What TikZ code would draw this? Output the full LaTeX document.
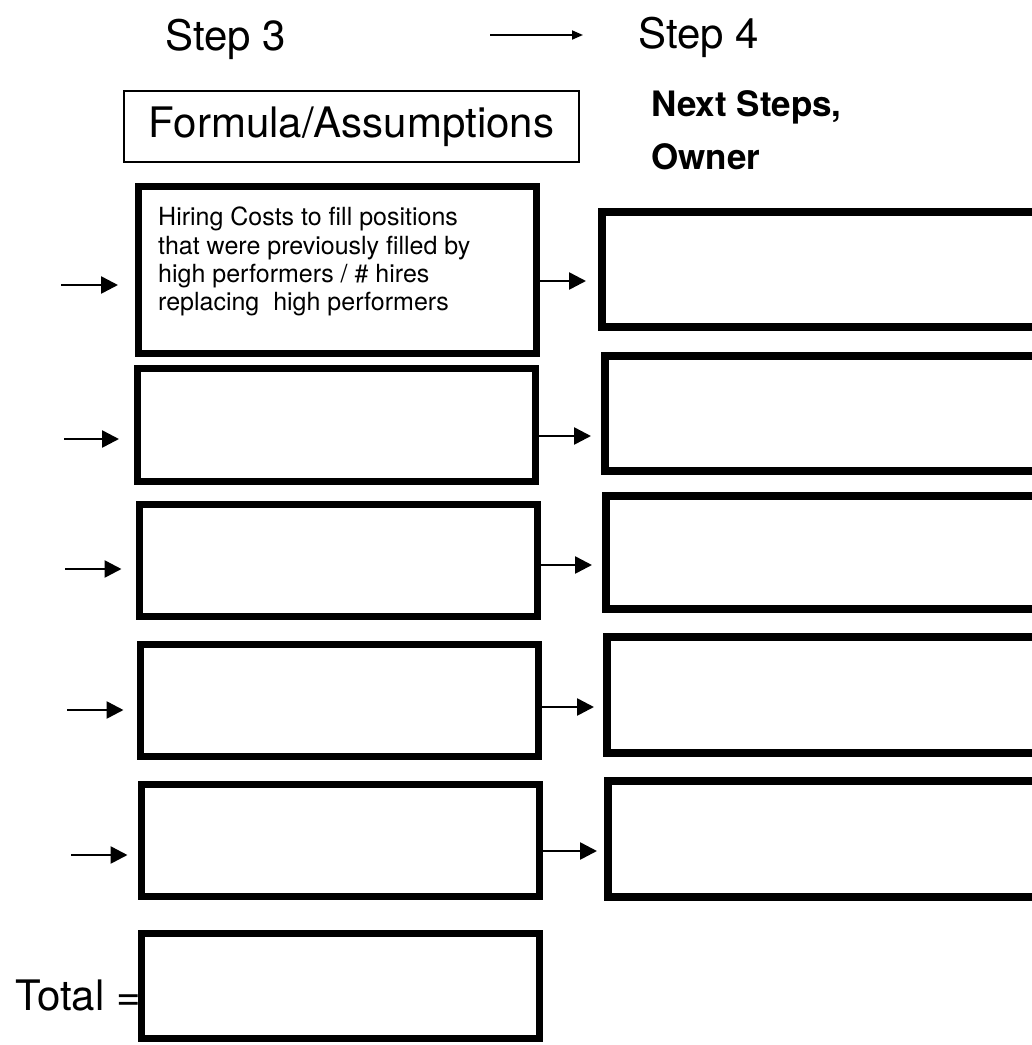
\documentclass[tikz,border=0pt]{standalone}
\usepackage{fontspec}
\setmainfont{TeX Gyre Heros}
\usetikzlibrary{arrows.meta}
\begin{document}
\begin{tikzpicture}[x=1pt, y=-1pt,
  leftbox/.style={draw=black, line width=7pt, minimum width=398pt, minimum height=#1, inner sep=0pt},
  ownerbox/.style={draw=black, line width=8pt, minimum width=452pt, minimum height=#1, inner sep=0pt},
  feed/.style={line width=2.6pt, -{Triangle[length=17pt,width=17pt]}},
  steparrow/.style={line width=1.8pt, -{Triangle[length=11pt,width=9pt]}},
  steptitle/.style={font=\fontsize{42}{48}\selectfont, inner sep=0pt},
]
% page frame
\useasboundingbox (0,0) rectangle (1032,1045);
\fill[white] (0,0) rectangle (1032,1045);
\clip (0,0) rectangle (1032,1045);

% header
\node[steptitle, anchor=base west] (s3) at (165,50) {Step 3};
\node[steptitle, anchor=base west] (s4) at (638,48) {Step 4};
\coordinate (h1) at (490,35);
\coordinate (h2) at (583,35);
\draw[steparrow] (h1) -- (h2);

\node[draw=black, line width=1.5pt, minimum width=455pt, minimum height=71pt, inner sep=0pt,
      font=\fontsize{42}{48}\selectfont] (formula) at (351.5,126.5) {Formula/Assumptions};
\node[anchor=north west, inner sep=0pt, align=left,
      font=\fontsize{35}{53}\selectfont\bfseries] (owner) at (651,90) {Next Steps,\\Owner};

% formula column
\node[leftbox=167pt] (L1) at (337.5,270) {};
\node[leftbox=113pt] (L2) at (336.5,425) {};
\node[leftbox=112pt] (L3) at (338,560.5) {};
\node[leftbox=112pt] (L4) at (339,700.5) {};
\node[leftbox=112pt] (L5) at (340,840.5) {};
\node[leftbox=105pt] (LT) at (340.5,986) {};

\node[anchor=north west, inner sep=0pt, align=left,
      font=\fontsize{25}{28.3}\selectfont] (hire) at (158,207)
  {Hiring Costs to fill positions\\that were previously filled by\\high performers / \# hires\\replacing\ \ high performers};

\node[anchor=base east, inner sep=0pt, font=\fontsize{42}{48}\selectfont] (total) at (141,1010) {Total =};

% next-steps column
\node[ownerbox=115pt] (R1) at (828,269.5) {};
\node[ownerbox=115pt] (R2) at (831,413.5) {};
\node[ownerbox=113pt] (R3) at (832,552.5) {};
\node[ownerbox=116pt] (R4) at (833,695) {};
\node[ownerbox=116pt] (R5) at (834,839) {};

% incoming arrows
\coordinate (i1) at (61,285);
\coordinate (i2) at (64,439);
\coordinate (i3) at (65,569);
\coordinate (i4) at (67,710);
\coordinate (i5) at (71,855);
\draw[feed, shorten >=17pt] (i1) -- (L1.west |- i1);
\draw[feed, shorten >=15pt] (i2) -- (L2.west |- i2);
\draw[feed, shorten >=14pt] (i3) -- (L3.west |- i3);
\draw[feed, shorten >=13pt] (i4) -- (L4.west |- i4);
\draw[feed, shorten >=10pt] (i5) -- (L5.west |- i5);

% arrows between the columns
\coordinate (m1) at (0,281);
\coordinate (m2) at (0,436);
\coordinate (m3) at (0,565);
\coordinate (m4) at (0,707);
\coordinate (m5) at (0,851);
\draw[feed, shorten >=12pt] (L1.east |- m1) -- (R1.west |- m1);
\draw[feed, shorten >=10pt] (L2.east |- m2) -- (R2.west |- m2);
\draw[feed, shorten >=10pt] (L3.east |- m3) -- (R3.west |- m3);
\draw[feed, shorten >=9pt]  (L4.east |- m4) -- (R4.west |- m4);
\draw[feed, shorten >=7pt]  (L5.east |- m5) -- (R5.west |- m5);
\end{tikzpicture}
\end{document}
